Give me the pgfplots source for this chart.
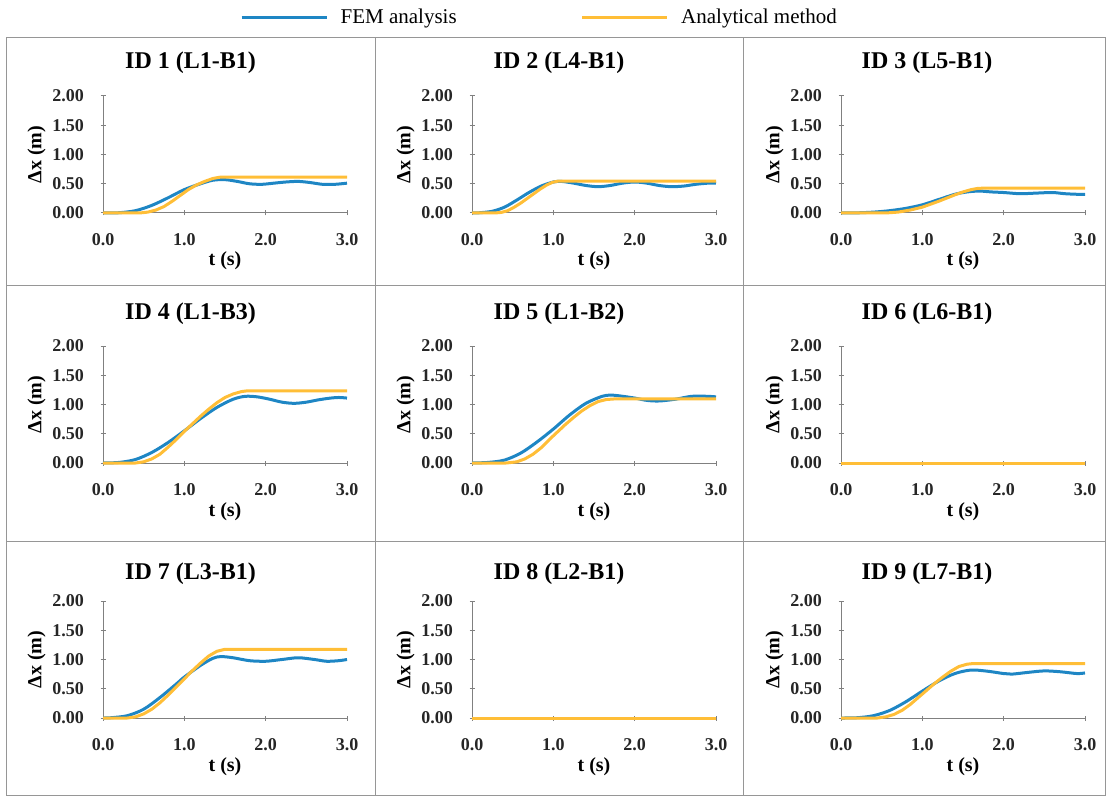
\documentclass[border=0pt]{standalone}
\usepackage{pgfplots}
\pgfplotsset{compat=1.18}
\usepackage{fontspec}
\setmainfont{Liberation Serif}
\definecolor{femblue}{RGB}{30,134,196}
\definecolor{anaorange}{RGB}{255,190,55}
\definecolor{framegray}{RGB}{150,150,150}
\pgfplotsset{
  panel/.style={
    scale only axis, width=244pt, height=117pt,
    xmin=0, xmax=3, ymin=0, ymax=2,
    anchor=south west, clip=false,
    axis x line=bottom, axis y line=left,
    axis line style={-, draw=gray, line width=1pt},
    xtick={0,1,2,3}, ytick={0,0.5,1,1.5,2},
    major tick length=5pt, tick style={draw=gray, line width=1pt},
    /pgf/number format/assume math mode=true,
    tick label style={font=\fontsize{18}{18}\selectfont\bfseries, text=black!85},
    xticklabel style={yshift=-14pt, /pgf/number format/.cd, fixed, fixed zerofill, precision=1},
    yticklabel style={xshift=-13pt, /pgf/number format/.cd, fixed, fixed zerofill, precision=2},
    xlabel={t (s)}, ylabel={Δx (m)},
    xlabel style={yshift=0pt},
    ylabel style={yshift=0pt},
    label style={font=\fontsize{20}{20}\selectfont\bfseries},
  },
  fem/.style={draw=femblue, line width=3pt, smooth, tension=0.5, no markers, line join=round},
  ana/.style={draw=anaorange, line width=3pt, no markers, line join=round},
}
\begin{document}
\begin{tikzpicture}[x=1pt,y=1pt]
\useasboundingbox (0,0) rectangle (1107,796);
% panel frames
\draw[framegray, line width=1pt] (6,1) rectangle (1105.5,758);
\draw[framegray, line width=1pt] (375,1) -- (375,758) (743,1) -- (743,758)
  (6,510) -- (1105.5,510) (6,255) -- (1105.5,255);
% titles
\begin{scope}[every node/.style={font=\fontsize{24}{24}\selectfont\bfseries}]
\node at (190.5,733) {ID 1 (L1-B1)};
\node at (559,733) {ID 2 (L4-B1)};
\node at (927,733) {ID 3 (L5-B1)};
\node at (190.5,482) {ID 4 (L1-B3)};
\node at (559,482) {ID 5 (L1-B2)};
\node at (927,482) {ID 6 (L6-B1)};
\node at (190.5,222) {ID 7 (L3-B1)};
\node at (559,222) {ID 8 (L2-B1)};
\node at (927,222) {ID 9 (L7-B1)};
\end{scope}
% ---------- ID 1
\begin{axis}[panel, at={(103pt,583pt)},
  legend style={at={(0.549,1.675)}, anchor=west, draw=none, fill=none,
    font=\fontsize{21}{21}\selectfont, legend columns=-1,
    /tikz/every even column/.append style={column sep=122pt}},
  legend image code/.code={\draw[#1] (0pt,0pt) -- (85pt,0pt); \path[draw=none] (0pt,0pt) -- (97pt,0pt);}]
\addplot[fem] coordinates {(0,0) (0.2,0.005) (0.4,0.04) (0.6,0.13) (0.8,0.26) (1.0,0.40) (1.2,0.50) (1.35,0.56) (1.5,0.57) (1.65,0.54) (1.8,0.50) (1.95,0.49) (2.1,0.51) (2.25,0.53) (2.4,0.54) (2.55,0.52) (2.7,0.49) (2.85,0.49) (3.0,0.51)};
\addlegendentry{FEM analysis}
\addplot[ana] coordinates {(0,0) (0.45,0) (0.55,0.015) (0.65,0.05) (0.75,0.11) (0.85,0.2) (0.95,0.3) (1.05,0.4) (1.15,0.48) (1.25,0.54) (1.35,0.59) (1.45,0.615) (3.0,0.615)};
\addlegendentry{Analytical method}
\end{axis}
% ---------- ID 2
\begin{axis}[panel, at={(472pt,583pt)}]
\addplot[fem] coordinates {(0,0) (0.1,0.005) (0.25,0.03) (0.4,0.1) (0.55,0.22) (0.7,0.35) (0.85,0.46) (1.0,0.53) (1.1,0.54) (1.25,0.51) (1.4,0.47) (1.55,0.45) (1.7,0.47) (1.85,0.51) (2.0,0.53) (2.15,0.51) (2.3,0.47) (2.45,0.45) (2.6,0.46) (2.75,0.49) (2.9,0.51) (3.0,0.51)};
\addplot[ana] coordinates {(0,0) (0.28,0) (0.36,0.01) (0.44,0.04) (0.52,0.1) (0.6,0.17) (0.68,0.25) (0.76,0.33) (0.84,0.41) (0.92,0.48) (0.99,0.525) (1.06,0.545) (3.0,0.545)};
\end{axis}
% ---------- ID 3
\begin{axis}[panel, at={(841pt,583pt)}]
\addplot[fem] coordinates {(0,0) (0.2,0.003) (0.4,0.015) (0.6,0.04) (0.8,0.08) (1.0,0.14) (1.2,0.23) (1.4,0.32) (1.55,0.36) (1.7,0.375) (1.85,0.36) (2.0,0.35) (2.2,0.33) (2.4,0.34) (2.6,0.35) (2.75,0.33) (2.9,0.32) (3.0,0.32)};
\addplot[ana] coordinates {(0,0) (0.55,0) (0.7,0.015) (0.85,0.05) (1.0,0.1) (1.1,0.15) (1.2,0.2) (1.3,0.255) (1.4,0.31) (1.5,0.36) (1.6,0.4) (1.68,0.42) (1.75,0.425) (3.0,0.425)};
\end{axis}
% ---------- ID 4
\begin{axis}[panel, at={(103pt,333pt)}]
\addplot[fem] coordinates {(0,0) (0.2,0.01) (0.4,0.06) (0.6,0.18) (0.8,0.35) (1.0,0.55) (1.2,0.76) (1.4,0.95) (1.6,1.09) (1.75,1.14) (1.9,1.13) (2.05,1.09) (2.2,1.04) (2.35,1.02) (2.5,1.04) (2.65,1.08) (2.8,1.11) (2.9,1.12) (3.0,1.11)};
\addplot[ana] coordinates {(0,0) (0.4,0) (0.5,0.02) (0.6,0.07) (0.7,0.15) (0.8,0.27) (0.9,0.4) (1.0,0.54) (1.1,0.67) (1.2,0.8) (1.3,0.92) (1.4,1.03) (1.5,1.12) (1.6,1.18) (1.7,1.22) (1.78,1.235) (3.0,1.235)};
\end{axis}
% ---------- ID 5
\begin{axis}[panel, at={(472pt,333pt)}]
\addplot[fem] coordinates {(0,0) (0.2,0.01) (0.4,0.05) (0.6,0.17) (0.8,0.36) (1.0,0.58) (1.2,0.82) (1.4,1.02) (1.6,1.14) (1.7,1.16) (1.8,1.15) (2.0,1.11) (2.15,1.07) (2.3,1.06) (2.5,1.09) (2.7,1.14) (2.9,1.14) (3.0,1.13)};
\addplot[ana] coordinates {(0,0) (0.42,0) (0.55,0.02) (0.65,0.07) (0.75,0.15) (0.85,0.26) (0.95,0.4) (1.05,0.53) (1.15,0.66) (1.25,0.78) (1.35,0.89) (1.45,0.98) (1.55,1.05) (1.65,1.085) (1.75,1.095) (3.0,1.095)};
\end{axis}
% ---------- ID 6
\begin{axis}[panel, at={(841pt,333pt)}]
\addplot[fem] coordinates {(0,0) (1,0) (2,0) (3,0)};
\addplot[ana] coordinates {(0,0) (1,0) (2,0) (3,0)};
\end{axis}
% ---------- ID 7
\begin{axis}[panel, at={(103pt,78pt)}]
\addplot[fem] coordinates {(0,0) (0.1,0.005) (0.3,0.04) (0.5,0.15) (0.7,0.35) (0.9,0.58) (1.0,0.7) (1.2,0.9) (1.35,1.02) (1.45,1.05) (1.6,1.03) (1.8,0.98) (2.0,0.97) (2.2,1.0) (2.4,1.03) (2.6,1.0) (2.75,0.97) (2.9,0.98) (3.0,1.0)};
\addplot[ana] coordinates {(0,0) (0.3,0) (0.4,0.02) (0.5,0.07) (0.6,0.15) (0.7,0.26) (0.8,0.39) (0.9,0.53) (1.0,0.67) (1.1,0.81) (1.2,0.94) (1.3,1.06) (1.4,1.14) (1.5,1.175) (3.0,1.175)};
\end{axis}
% ---------- ID 8
\begin{axis}[panel, at={(472pt,78pt)}]
\addplot[fem] coordinates {(0,0) (1,0) (2,0) (3,0)};
\addplot[ana] coordinates {(0,0) (1,0) (2,0) (3,0)};
\end{axis}
% ---------- ID 9
\begin{axis}[panel, at={(841pt,78pt)}]
\addplot[fem] coordinates {(0,0) (0.2,0.005) (0.4,0.04) (0.6,0.13) (0.8,0.28) (1.0,0.46) (1.2,0.63) (1.4,0.76) (1.6,0.82) (1.8,0.80) (2.0,0.76) (2.1,0.75) (2.3,0.78) (2.5,0.805) (2.7,0.79) (2.9,0.76) (3.0,0.77)};
\addplot[ana] coordinates {(0,0) (0.45,0) (0.55,0.02) (0.65,0.06) (0.75,0.13) (0.85,0.23) (0.95,0.35) (1.05,0.47) (1.15,0.59) (1.25,0.7) (1.35,0.8) (1.45,0.88) (1.55,0.92) (1.62,0.93) (3.0,0.93)};
\end{axis}
\end{tikzpicture}
\end{document}
